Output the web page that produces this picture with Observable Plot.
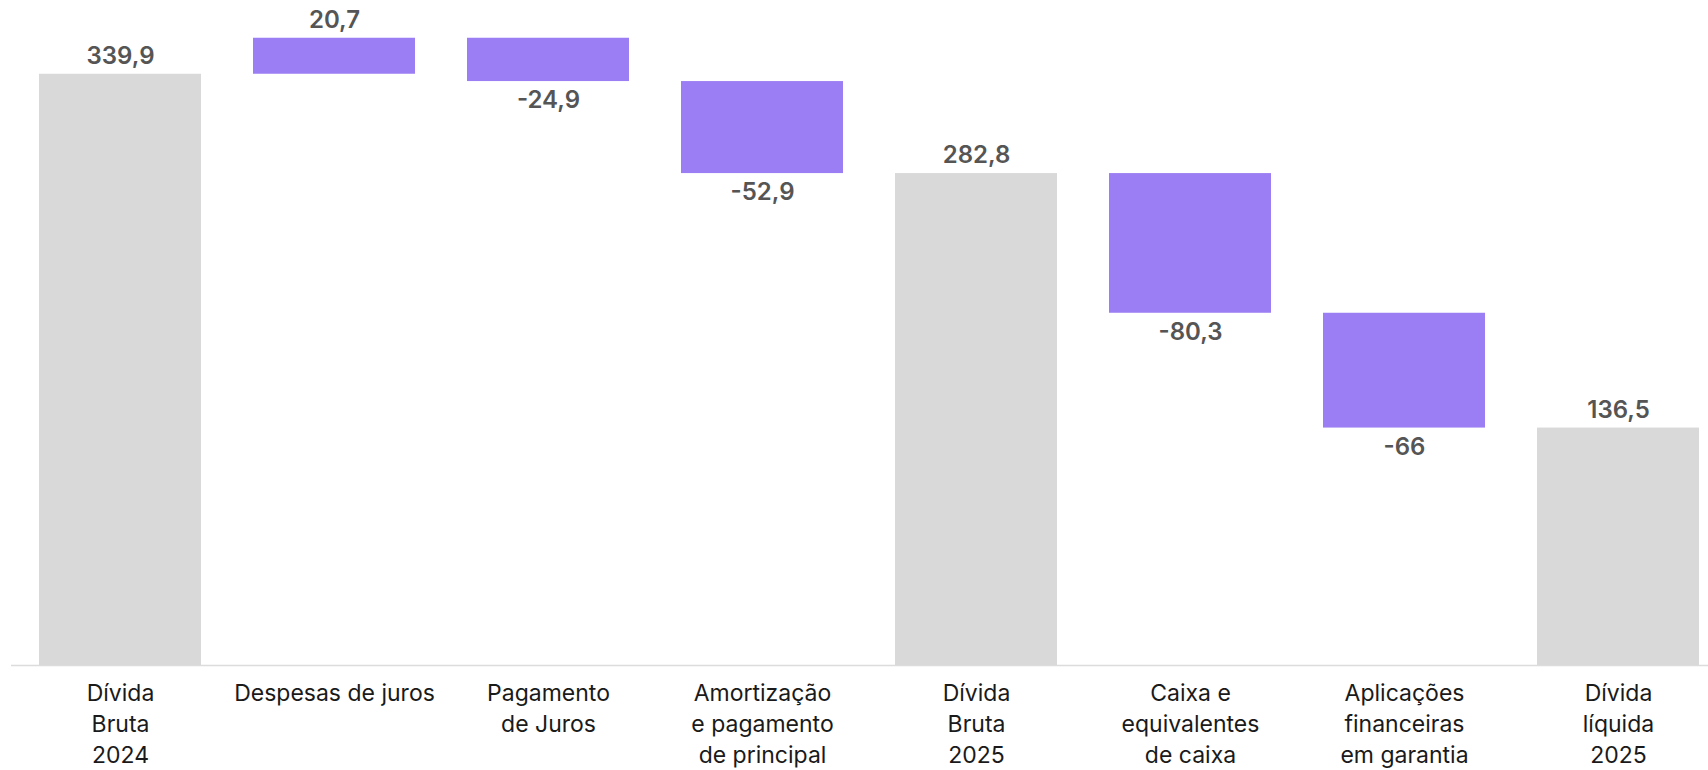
<!DOCTYPE html>
<html><head><meta charset="utf-8">
<script src="https://cdn.jsdelivr.net/npm/d3@7"></script>
<script src="https://cdn.jsdelivr.net/npm/@observablehq/plot@0.6"></script>
<style>body{margin:0;background:#fff;}</style>
</head><body><div id="chart"></div>
<script>
const categories = ["Dívida Bruta 2024", "Despesas de juros", "Pagamento de Juros", "Amortização e pagamento de principal", "Dívida Bruta 2025", "Caixa e equivalentes de caixa", "Aplicações financeiras em garantia", "Dívida líquida 2025"];
const tickLabels = ["Dívida\nBruta\n2024", "Despesas de juros", "Pagamento\nde Juros", "Amortização\ne pagamento\nde principal", "Dívida\nBruta\n2025", "Caixa e\nequivalentes\nde caixa", "Aplicações\nfinanceiras\nem garantia", "Dívida\nlíquida\n2025"];
const values = [339.9, 20.7, -24.9, -52.9, 282.8, -80.3, -66, 136.5];
const kinds = ["total", "delta", "delta", "delta", "total", "delta", "delta", "total"];

let running = 0;
const rows = categories.map((c, i) => {
  const v = values[i], k = kinds[i];
  let y1, y2;
  if (k === "total") { y1 = 0; y2 = v; running = v; }
  else { y1 = running; y2 = running + v; running = y2; }
  return {c, label: tickLabels[i], v, k, y1, y2, top: Math.max(y1, y2), bottom: Math.min(y1, y2)};
});
const fmt = v => String(v).replace(".", ",");

const chart = Plot.plot({
  width: 1708, height: 770,
  marginTop: 4, marginBottom: 105, marginLeft: 38, marginRight: 9,
  x: {domain: categories, paddingInner: 0.243, paddingOuter: 0, axis: null},
  y: {domain: [0, 380], axis: null},
  style: {fontFamily: "Inter, 'Noto Sans', sans-serif", background: "#fff"},
  marks: [
    Plot.barY(rows, {x: "c", y1: "y1", y2: "y2", fill: d => d.k === "total" ? "#d9d9d9" : "#9b7ef3"}),
    Plot.ruleY([0], {stroke: "#dcdcdc", strokeWidth: 1.5, insetLeft: -27, insetRight: -9}),
    Plot.text(rows.filter(d => d.k === "total" || d.v > 0), {x: "c", y: "top", text: d => fmt(d.v), dy: -18, lineAnchor: "middle", fontSize: 24, fontWeight: 600, fill: "#555"}),
    Plot.text(rows.filter(d => d.k === "delta" && d.v < 0), {x: "c", y: "bottom", text: d => fmt(d.v), dy: 19, lineAnchor: "middle", fontSize: 24, fontWeight: 600, fill: "#555"}),
    Plot.text(rows, {x: "c", frameAnchor: "bottom", text: "label", lineAnchor: "top", dy: 14, fontSize: 23, lineHeight: 1.34, fill: "#1a1a1a"})
  ]
});
document.getElementById("chart").appendChild(chart);
</script>
</body></html>
